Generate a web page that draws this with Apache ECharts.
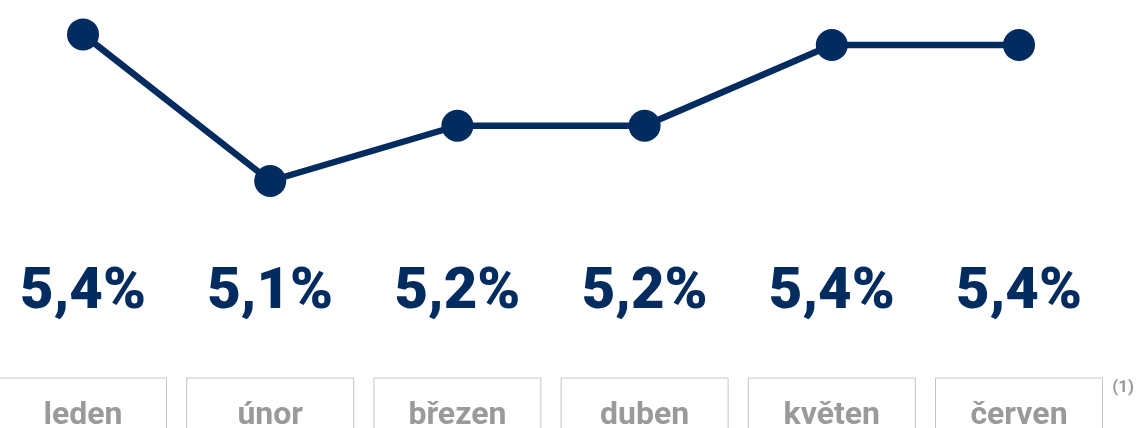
<!DOCTYPE html>
<html>
<head>
<meta charset="utf-8">
<script src="https://cdn.jsdelivr.net/npm/echarts@6/dist/echarts.min.js"></script>
<style>
  html, body { margin: 0; padding: 0; background: #fff; }
  #chart { width: 1140px; height: 428px; }
</style>
</head>
<body>
<div id="chart"></div>
<script>
const mesice = ['leden', 'únor', 'březen', 'duben', 'květen', 'červen'];
const hodnoty = [5.425, 5.08, 5.21, 5.21, 5.40, 5.40];
const poznamka = '(1)';

const modra = '#022b5f';
const seda = '#9a9a9a';

const chart = echarts.init(document.getElementById('chart'));

const fmt = v => v.toFixed(1).replace('.', ',') + '%';

chart.setOption({
    animation: false,
    title: {
        text: poznamka,
        right: 1,
        top: 374,
        textStyle: { fontFamily: 'Roboto', fontSize: 17, fontWeight: 'bold', color: seda }
    },
    grid: {
        left: -10.6, width: 1123.2, top: 2.5, bottom: 213,
        containLabel: false, outerBoundsMode: 'none'
    },
    xAxis: [
        {
            type: 'category',
            data: mesice,
            axisLine: { show: false },
            axisTick: { show: false },
            axisLabel: {
                margin: 78,
                verticalAlign: 'middle',
                fontFamily: 'Roboto',
                fontSize: 58,
                fontWeight: 900,
                color: modra,
                formatter: (v, i) => fmt(hodnoty[i])
            }
        },
        {
            type: 'category',
            data: mesice,
            position: 'bottom',
            axisLine: { show: false },
            axisTick: { show: false },
            axisLabel: {
                margin: 163,
                verticalAlign: 'top',
                fontFamily: 'Roboto',
                fontSize: 32,
                fontWeight: 'bold',
                color: seda,
                width: 167,
                height: 70,
                lineHeight: 32,
                align: 'center',
                padding: [22, 0, 0, 0],
                borderColor: '#c4c4c4',
                borderWidth: 1
            }
        }
    ],
    yAxis: { type: 'value', min: 5.0, max: 5.5, show: false },
    series: [{
        type: 'line',
        data: hodnoty,
        symbol: 'circle',
        symbolSize: 32,
        lineStyle: { color: modra, width: 6.5 },
        itemStyle: { color: modra }
    }]
});
window.addEventListener('resize', () => chart.resize());
</script>
</body>
</html>
